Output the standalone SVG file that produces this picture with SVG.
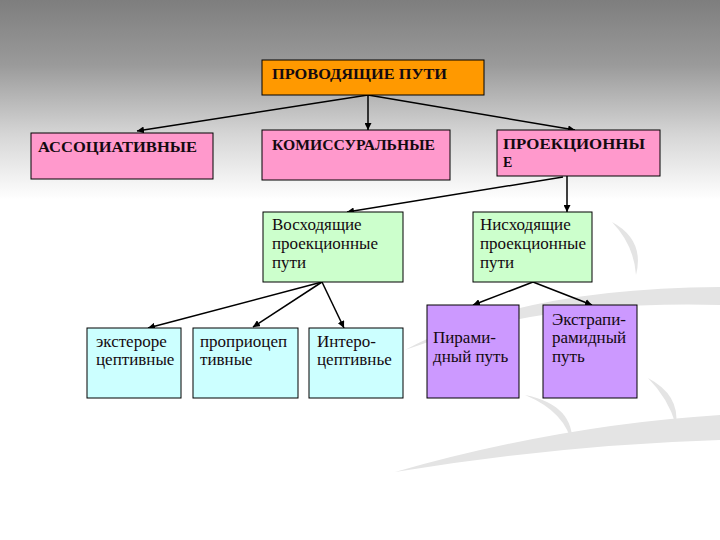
<svg xmlns="http://www.w3.org/2000/svg" width="720" height="540" viewBox="0 0 720 540">
<defs>
<linearGradient id="bg" x1="0" y1="0" x2="0" y2="540" gradientUnits="userSpaceOnUse">
<stop offset="0" stop-color="#7e7e7e"/>
<stop offset="0.12" stop-color="#9a9a9a"/>
<stop offset="0.25" stop-color="#d6d6d6"/>
<stop offset="0.37" stop-color="#ffffff"/>
<stop offset="1" stop-color="#ffffff"/>
</linearGradient>
<marker id="ah" viewBox="0 0 10 10" refX="10" refY="5" markerWidth="7" markerHeight="7" orient="auto" markerUnits="userSpaceOnUse">
<path d="M0,0 L10,5 L0,10 z" fill="#000"/>
</marker>
<style>
.box{stroke:#000;stroke-width:1}
.or{fill:#ff9900}
.pk{fill:#ff99cc}
.gr{fill:#ccffcc}
.cy{fill:#ccffff}
.pu{fill:#cc99ff}
.t{font-family:'Liberation Serif','DejaVu Serif',serif;font-size:17px;fill:#140a10}
.c{font-weight:bold;font-size:14px}
.ln{stroke:#000;stroke-width:1.5;fill:none;marker-end:url(#ah)}
.sw{fill:#e4e4e4}
</style>
</defs>
<rect width="720" height="540" fill="url(#bg)"/>
<g id="swooshes">
<path class="sw" d="M405,350 Q520,288 720,287 L720,305 Q540,300 405,350 z"/>
<path class="sw" d="M395,472 Q560,425 720,415 L720,440 Q560,445 395,472 z"/>
<path class="sw" d="M525,395 Q575,405 572,445 Q566,412 525,395 z"/>
<path class="sw" d="M648,378 Q680,395 676,425 Q668,398 648,378 z"/>
<path class="sw" d="M612,222 Q645,240 636,275 Q634,245 612,222 z"/>
</g>
<g id="connectors">
<line class="ln" x1="368" y1="95" x2="137" y2="131"/>
<line class="ln" x1="368" y1="95" x2="368" y2="130"/>
<line class="ln" x1="368" y1="95" x2="575" y2="130"/>
<line class="ln" x1="567" y1="176" x2="567" y2="212"/>
<line class="ln" x1="563" y1="177" x2="347" y2="212"/>
<line class="ln" x1="322" y1="282" x2="148" y2="328"/>
<line class="ln" x1="322" y1="282" x2="253" y2="327"/>
<line class="ln" x1="322" y1="282" x2="344" y2="328"/>
<line class="ln" x1="533" y1="282" x2="473" y2="305"/>
<line class="ln" x1="533" y1="282" x2="592" y2="305"/>
</g>
<g id="n-root">
<rect class="box or" x="262" y="60" width="222" height="35"/>
<text class="t c" x="272" y="79" textLength="175" lengthAdjust="spacingAndGlyphs">ПРОВОДЯЩИЕ ПУТИ</text>
</g>
<g id="n-assoc">
<rect class="box pk" x="31" y="133" width="182" height="46"/>
<text class="t c" x="38" y="152" textLength="159" lengthAdjust="spacingAndGlyphs">АССОЦИАТИВНЫЕ</text>
</g>
<g id="n-comm">
<rect class="box pk" x="262" y="130" width="188" height="50"/>
<text class="t c" x="272" y="150" textLength="163" lengthAdjust="spacingAndGlyphs">КОМИССУРАЛЬНЫЕ</text>
</g>
<g id="n-proj">
<rect class="box pk" x="497" y="130" width="163" height="46"/>
<text class="t c" x="503" y="149" textLength="142" lengthAdjust="spacingAndGlyphs">ПРОЕКЦИОННЫ</text>
<text class="t c" x="503" y="167">Е</text>
</g>
<g id="n-asc">
<rect class="box gr" x="263" y="212" width="140" height="70"/>
<text class="t" x="272" y="230">Восходящие</text>
<text class="t" x="272" y="249">проекционные</text>
<text class="t" x="272" y="268">пути</text>
</g>
<g id="n-desc">
<rect class="box gr" x="473" y="212" width="119" height="70"/>
<text class="t" x="480" y="230">Нисходящие</text>
<text class="t" x="480" y="249">проекционные</text>
<text class="t" x="480" y="268">пути</text>
</g>
<g id="n-ext">
<rect class="box cy" x="87" y="328" width="94" height="70"/>
<text class="t" x="96" y="347">экстероре</text>
<text class="t" x="96" y="365">цептивные</text>
</g>
<g id="n-prop">
<rect class="box cy" x="193" y="328" width="105" height="70"/>
<text class="t" x="200" y="347">проприоцеп</text>
<text class="t" x="200" y="365">тивные</text>
</g>
<g id="n-int">
<rect class="box cy" x="309" y="328" width="94" height="70"/>
<text class="t" x="317" y="347">Интеро-</text>
<text class="t" x="317" y="365">цептивнье</text>
</g>
<g id="n-pyr">
<rect class="box pu" x="427" y="305" width="92" height="93"/>
<text class="t" x="433" y="343">Пирами-</text>
<text class="t" x="433" y="362">дный путь</text>
</g>
<g id="n-extra">
<rect class="box pu" x="543" y="305" width="94" height="93"/>
<text class="t" x="552" y="325">Экстрапи-</text>
<text class="t" x="552" y="343">рамидный</text>
<text class="t" x="552" y="362">путь</text>
</g>
</svg>
